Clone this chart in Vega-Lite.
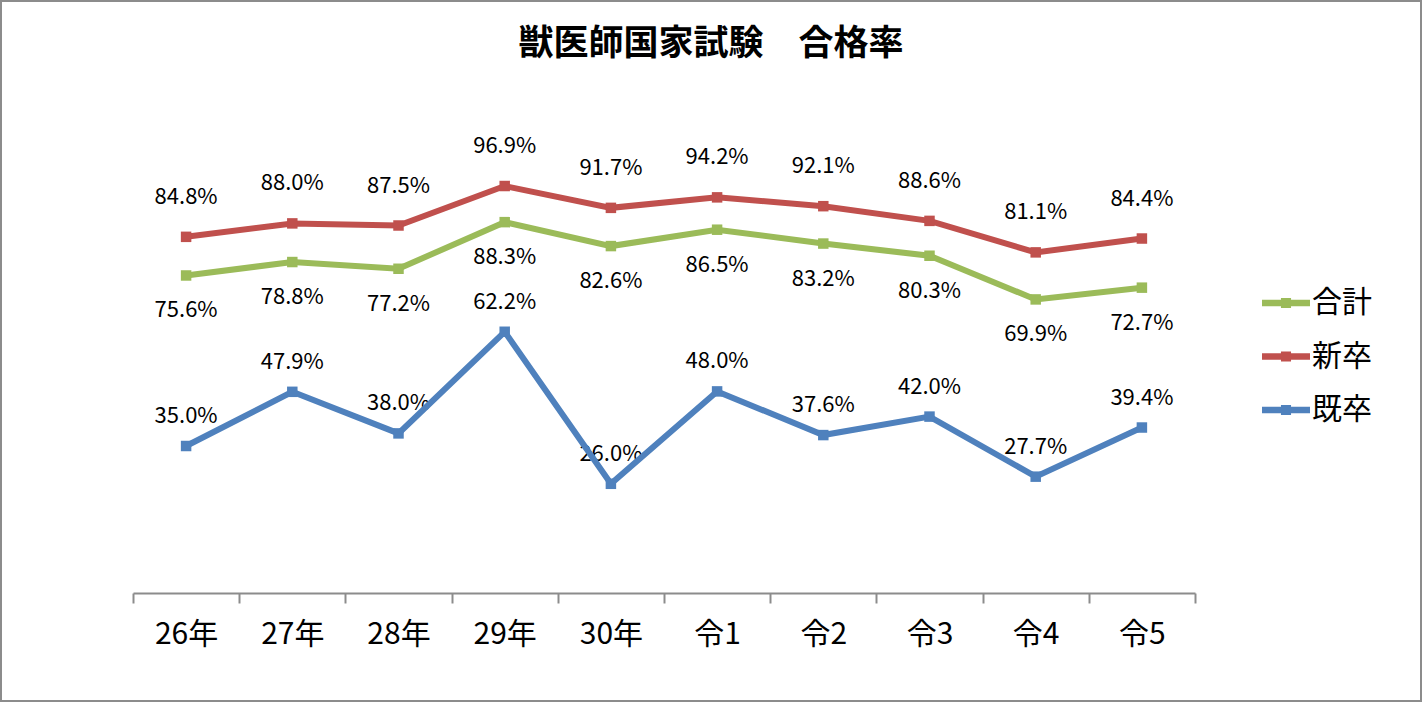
{
  "$schema": "https://vega.github.io/schema/vega-lite/v6.json",
  "width": 1422,
  "height": 702,
  "autosize": {"type": "none"},
  "padding": 0,
  "background": "white",
  "config": {
    "view": {"stroke": "#8c8c8c", "strokeWidth": 4},
    "font": "Noto Sans CJK JP"
  },
  "title": {
    "text": "獣医師国家試験　合格率",
    "font": "Noto Sans CJK JP",
    "fontSize": 35,
    "fontWeight": "bold",
    "color": "black",
    "anchor": "middle",
    "offset": -62
  },
  "data": {
    "values": [
      {"cat": "26年", "series": "合計", "value": 0.756},
      {"cat": "27年", "series": "合計", "value": 0.788},
      {"cat": "28年", "series": "合計", "value": 0.772},
      {"cat": "29年", "series": "合計", "value": 0.883},
      {"cat": "30年", "series": "合計", "value": 0.826},
      {"cat": "令1", "series": "合計", "value": 0.865},
      {"cat": "令2", "series": "合計", "value": 0.832},
      {"cat": "令3", "series": "合計", "value": 0.803},
      {"cat": "令4", "series": "合計", "value": 0.699},
      {"cat": "令5", "series": "合計", "value": 0.727},
      {"cat": "26年", "series": "新卒", "value": 0.848},
      {"cat": "27年", "series": "新卒", "value": 0.880},
      {"cat": "28年", "series": "新卒", "value": 0.875},
      {"cat": "29年", "series": "新卒", "value": 0.969},
      {"cat": "30年", "series": "新卒", "value": 0.917},
      {"cat": "令1", "series": "新卒", "value": 0.942},
      {"cat": "令2", "series": "新卒", "value": 0.921},
      {"cat": "令3", "series": "新卒", "value": 0.886},
      {"cat": "令4", "series": "新卒", "value": 0.811},
      {"cat": "令5", "series": "新卒", "value": 0.844},
      {"cat": "26年", "series": "既卒", "value": 0.350},
      {"cat": "27年", "series": "既卒", "value": 0.479},
      {"cat": "28年", "series": "既卒", "value": 0.380},
      {"cat": "29年", "series": "既卒", "value": 0.622},
      {"cat": "30年", "series": "既卒", "value": 0.260},
      {"cat": "令1", "series": "既卒", "value": 0.480},
      {"cat": "令2", "series": "既卒", "value": 0.376},
      {"cat": "令3", "series": "既卒", "value": 0.420},
      {"cat": "令4", "series": "既卒", "value": 0.277},
      {"cat": "令5", "series": "既卒", "value": 0.394}
    ]
  },
  "encoding": {
    "x": {
      "field": "cat",
      "type": "nominal",
      "sort": ["26年", "27年", "28年", "29年", "30年", "令1", "令2", "令3", "令4", "令5"],
      "scale": {"type": "band", "range": [133, 1195], "paddingInner": 0, "paddingOuter": 0},
      "axis": {
        "title": null,
        "offset": -109,
        "tickBand": "extent",
        "domainColor": "#8c8c8c",
        "domainWidth": 2,
        "tickColor": "#8c8c8c",
        "tickWidth": 2,
        "tickSize": 10,
        "labelAngle": 0,
        "labelFont": "Noto Sans CJK JP",
        "labelFontSize": 30,
        "labelColor": "black",
        "labelPadding": 16,
        "grid": false
      }
    },
    "y": {
      "field": "value",
      "type": "quantitative",
      "scale": {"domain": [0, 1], "range": [593, 173]},
      "axis": null
    },
    "color": {
      "field": "series",
      "type": "nominal",
      "scale": {"domain": ["合計", "新卒", "既卒"], "range": ["#9BBB59", "#C0504D", "#4F81BD"]},
      "legend": {
        "title": null,
        "orient": "none",
        "legendX": 1262,
        "legendY": 279,
        "labelFont": "Noto Sans CJK JP",
        "labelFontSize": 30,
        "labelColor": "black",
        "labelOffset": 2,
        "symbolSize": 2304,
        "symbolType": "M-1,-0.14H1V0.14H-1Z M-0.21,-0.21H0.21V0.21H-0.21Z",
        "symbolStrokeWidth": 0,
        "rowPadding": 14.5,
        "encode": {
          "symbols": {"update": {"fill": {"scale": "color", "field": "value"}, "opacity": {"value": 1}}}
        }
      }
    }
  },
  "layer": [
    {
      "transform": [{"filter": "datum.series === '新卒'"}],
      "mark": {"type": "text", "dy": -40, "fontSize": 22, "baseline": "middle", "font": "Noto Sans CJK JP"},
      "encoding": {"text": {"field": "value", "format": ".1%"}, "color": {"value": "black"}}
    },
    {
      "transform": [{"filter": "datum.series === '合計'"}],
      "mark": {"type": "text", "dy": 35, "fontSize": 22, "baseline": "middle", "font": "Noto Sans CJK JP"},
      "encoding": {"text": {"field": "value", "format": ".1%"}, "color": {"value": "black"}}
    },
    {
      "transform": [{"filter": "datum.series === '既卒'"}],
      "mark": {"type": "text", "dy": -30, "fontSize": 22, "baseline": "middle", "font": "Noto Sans CJK JP"},
      "encoding": {"text": {"field": "value", "format": ".1%"}, "color": {"value": "black"}}
    },
    {"mark": {"type": "line", "strokeWidth": 6}},
    {"mark": {"type": "point", "shape": "square", "filled": true, "size": 110, "opacity": 1}}
  ]
}
